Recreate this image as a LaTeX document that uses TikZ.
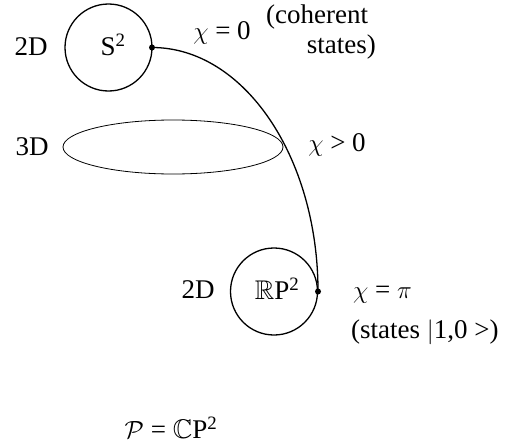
\documentclass[tikz,border=0pt]{standalone}
\usepackage{amssymb}
\usepackage{fontspec}
\setmainfont{Liberation Serif}
\usetikzlibrary{shapes.geometric}
\tikzset{
  lbl/.style={font=\fontsize{27}{32}\selectfont, inner sep=0pt},
  sphere/.style={circle, draw, line width=1.3pt, minimum size=87pt, inner sep=0pt},
  dotmark/.style={circle, fill, minimum size=6pt, inner sep=0pt},
}
\begin{document}
\begin{tikzpicture}[x=1pt,y=-1pt]
\useasboundingbox (0,0) rectangle (527,447);
% spheres
\node[sphere] (s2) at (108.5,47.5) {};
\node[lbl] (s2t) at (113,45) {S\textsuperscript{2}};
\node[sphere] (rp2) at (274,291.5) {};
\node[lbl] (rp2t) at (277,289) {$\mathbb{R}$P\textsuperscript{2}};
% ellipse
\node[ellipse, draw, line width=0.8pt, minimum width=220pt, minimum height=54pt, inner sep=0pt] (ell) at (173,147) {};
% dots
\node[dotmark] (d1) at (152,47.5) {};
\node[dotmark] (d2) at (318,291.5) {};
% connecting curve
\draw[line width=1.3pt] (d1.center) .. controls +(91.7,0) and +(0,-134.8) .. (d2.center);
% labels
\node[lbl] (l2a) at (31,47) {2D};
\node[lbl] (l3) at (32,147) {3D};
\node[lbl] (l2b) at (198,290) {2D};
\node[lbl] (c0) at (222,33) {$\chi$ = 0};
\node[lbl, anchor=west] (coh) at (266,17) {(coherent};
\node[lbl, anchor=east] (st1) at (376,47) {states)};
\node[lbl] (cg) at (337,145) {$\chi$ > 0};
\node[lbl, anchor=west] (cpi) at (353,295) {$\chi$ = $\pi$};
\node[lbl, anchor=west] (st2) at (351,332) {(states $|$1,0 >)};
\node[lbl] (cp) at (171,428) {$\mathcal{P}$ = $\mathbb{C}$P\textsuperscript{2}};
\end{tikzpicture}
\end{document}
